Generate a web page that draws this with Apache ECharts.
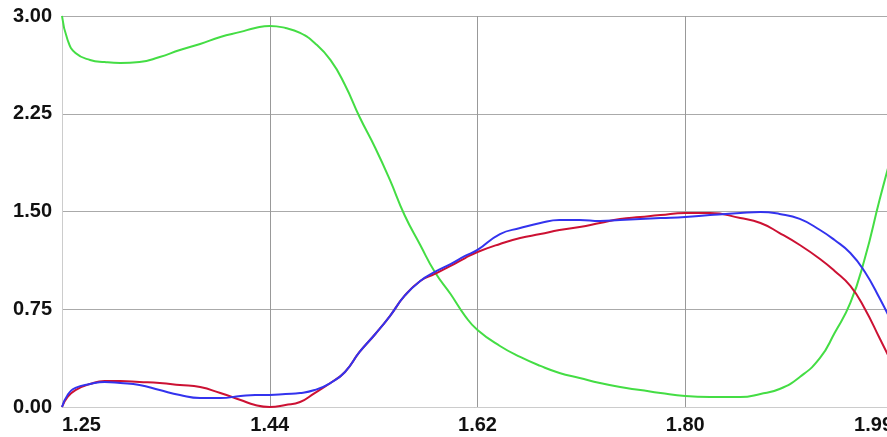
<!DOCTYPE html>
<html>
<head>
<meta charset="utf-8">
<script src="https://cdn.jsdelivr.net/npm/echarts@6/dist/echarts.min.js"></script>
<style>
  html, body { margin: 0; padding: 0; background: #fff; }
  #main { width: 887px; height: 437px; }
</style>
</head>
<body>
<div id="main"></div>
<script>
// x positions shared by the three curves
var xs = [1.250, 1.255, 1.262, 1.275, 1.288, 1.302, 1.319, 1.337, 1.355, 1.373,
          1.391, 1.409, 1.422, 1.435, 1.449, 1.462, 1.475, 1.489, 1.502, 1.515,
          1.529, 1.542, 1.555, 1.569, 1.582, 1.596, 1.609, 1.620, 1.640, 1.658,
          1.676, 1.693, 1.711, 1.729, 1.747, 1.765, 1.783, 1.805, 1.827, 1.854,
          1.872, 1.889, 1.907, 1.925, 1.938, 1.952, 1.965, 1.978, 1.990];

var greenVals = [3.000, 2.816, 2.716, 2.663, 2.647, 2.640, 2.647, 2.686, 2.739, 2.785,
                 2.839, 2.878, 2.908, 2.924, 2.908, 2.870, 2.793, 2.663, 2.471, 2.225,
                 1.987, 1.742, 1.473, 1.243, 1.036, 0.867, 0.698, 0.591, 0.468, 0.384,
                 0.315, 0.261, 0.223, 0.184, 0.153, 0.130, 0.107, 0.084, 0.077, 0.077,
                 0.100, 0.138, 0.230, 0.376, 0.568, 0.798, 1.143, 1.588, 1.972];

var redVals = [0.000, 0.077, 0.130, 0.176, 0.199, 0.199, 0.192, 0.184, 0.169, 0.153,
               0.107, 0.054, 0.015, 0.000, 0.015, 0.038, 0.107, 0.184, 0.269, 0.422,
               0.560, 0.698, 0.852, 0.967, 1.021, 1.082, 1.143, 1.189, 1.251, 1.297,
               1.327, 1.358, 1.381, 1.412, 1.443, 1.458, 1.473, 1.489, 1.489, 1.450,
               1.412, 1.335, 1.243, 1.136, 1.044, 0.929, 0.752, 0.529, 0.322];

var blueVals = [0.000, 0.092, 0.146, 0.176, 0.192, 0.184, 0.169, 0.130, 0.092, 0.069,
                0.069, 0.084, 0.092, 0.092, 0.100, 0.107, 0.130, 0.184, 0.269, 0.422,
                0.560, 0.698, 0.852, 0.967, 1.036, 1.097, 1.159, 1.205, 1.327, 1.373,
                1.412, 1.435, 1.435, 1.427, 1.435, 1.443, 1.450, 1.458, 1.473, 1.489,
                1.496, 1.481, 1.443, 1.358, 1.281, 1.182, 1.036, 0.836, 0.629];

var xTickLabels = ['1.25', '1.44', '1.62', '1.80', '1.99'];

function pairs(vals) {
    return xs.map(function (x, i) { return [x, vals[i]]; });
}

var labelFont = { fontFamily: 'Liberation Sans, Arial, sans-serif', fontWeight: 'bold', fontSize: 20, color: '#111' };

var myChart = echarts.init(document.getElementById('main'));
myChart.setOption({
    animation: false,
    grid: { left: 62, right: -6, top: 16, bottom: 30, containLabel: false, outerBoundsMode: 'none' },
    xAxis: {
        type: 'value',
        min: 1.25,
        max: 1.99,
        interval: 0.185,
        axisLine: { show: true, lineStyle: { color: '#ccc' } },
        axisTick: { show: false },
        splitLine: { show: true, lineStyle: { color: '#999', width: 1 } },
        axisLabel: Object.assign({
            margin: 8,
            alignMinLabel: 'left',
            alignMaxLabel: 'right',
            formatter: function (v) {
                return xTickLabels[Math.round((v - 1.25) / 0.185)];
            }
        }, labelFont)
    },
    yAxis: {
        type: 'value',
        min: 0,
        max: 3,
        interval: 0.75,
        axisLine: { show: true, lineStyle: { color: '#ccc' } },
        axisTick: { show: false },
        splitLine: { show: true, lineStyle: { color: '#aaa', width: 1 } },
        axisLabel: Object.assign({
            margin: 10,
            formatter: function (v) { return v.toFixed(2); }
        }, labelFont)
    },
    series: [
        { type: 'line', smooth: true, symbol: 'none', data: pairs(greenVals),
          lineStyle: { color: '#44dd44', width: 2 } },
        { type: 'line', smooth: true, symbol: 'none', data: pairs(redVals),
          lineStyle: { color: '#cc1133', width: 2 } },
        { type: 'line', smooth: true, symbol: 'none', data: pairs(blueVals),
          lineStyle: { color: '#3333ee', width: 2 } }
    ]
});
</script>
</body>
</html>
